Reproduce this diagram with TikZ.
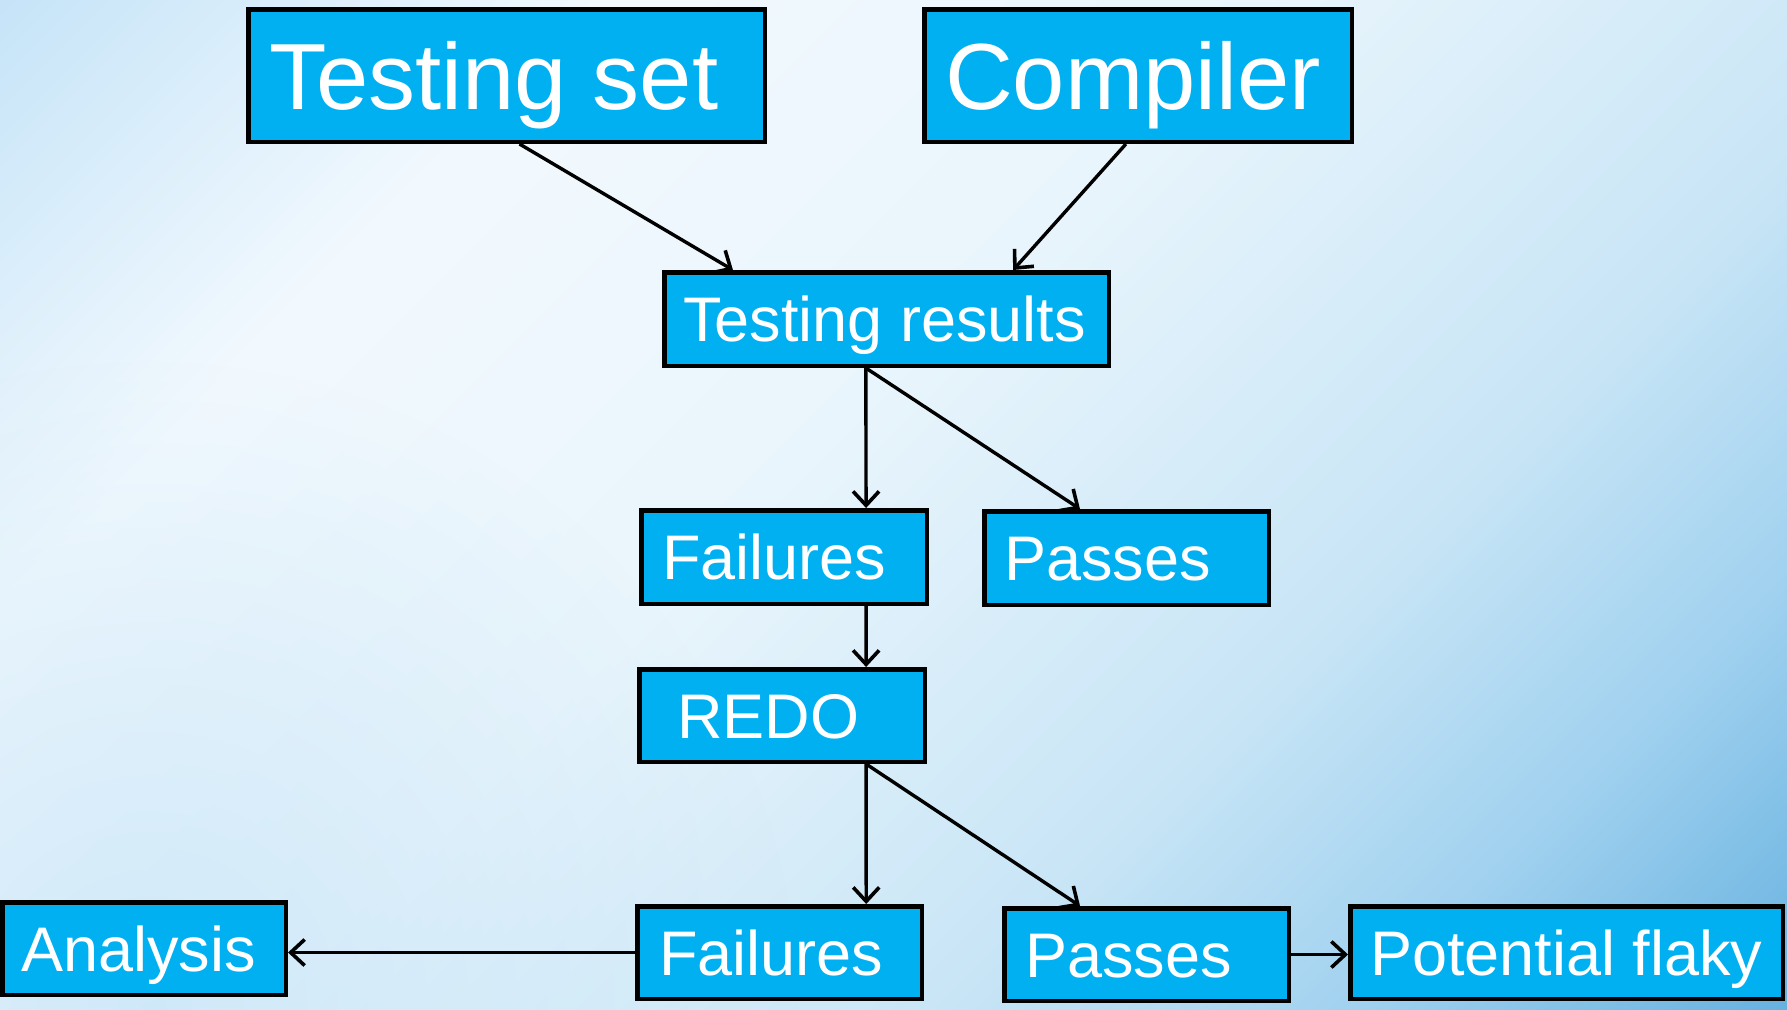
\documentclass[tikz,border=0pt]{standalone}
\usepackage{fontspec}
\setmainfont{Liberation Sans}
\usetikzlibrary{arrows.meta,calc,fadings}
\definecolor{boxblue}{HTML}{00B0F0}
\definecolor{bgA}{HTML}{C6E4F8}
\definecolor{bgB}{HTML}{F2F9FE}
\definecolor{bgC}{HTML}{E9F5FC}
\definecolor{bgD}{HTML}{C8E5F6}
\definecolor{bgE}{HTML}{A0D1EF}
\definecolor{bgF}{HTML}{68B2E0}
\definecolor{bgG}{HTML}{C4E3F7}
\pgfdeclarehorizontalshading{bgshade}{100bp}{color(0bp)=(bgA); color(14.64bp)=(bgA); color(30bp)=(bgB); color(46.5bp)=(bgC); color(64.1bp)=(bgD); color(74.7bp)=(bgE); color(85.36bp)=(bgF); color(100bp)=(bgF)}
\tikzfading[name=softglow, inner color=transparent!0, outer color=transparent!100]
\newcommand\lbox[2]{\makebox[#1][l]{#2}}
\tikzset{
  bx/.style n args={3}{draw=black, line width=4.5pt, fill=boxblue, text=white, rectangle,
    minimum width=#1, minimum height=#2, inner xsep=#3, inner ysep=0pt, anchor=center},
  big/.style={font=\fontsize{94}{100}\selectfont, text height=67pt, text depth=0pt},
  small/.style={font=\fontsize{63}{70}\selectfont, text height=45pt, text depth=0pt},
  arr/.style={draw=black, line width=3.4pt, -{Straight Barb[length=14pt,width=26pt,line width=3.6pt]}},
}
\begin{document}
\begin{tikzpicture}[x=1pt,y=-1pt]
\useasboundingbox (0,0) rectangle (1787,1009);
\begin{scope}
\clip (0,0) rectangle (1787,1009);
\shade[shading=bgshade, shading angle=-45] (0,0) rectangle (1787,1009);
\fill[bgG, opacity=0.7, path fading=softglow] (150,1009) circle (650);
\end{scope}

\node[bx={516.5pt}{132.5pt}{20.75pt}, big] (ts) at (506.5,75.5) {\lbox{475pt}{Testing set}};
\node[bx={427.5pt}{132.5pt}{20.75pt}, big] (cp) at (1138,75.5) {\lbox{386pt}{Compiler}};
\node[bx={444.5pt}{93.5pt}{18.75pt}, small] (tr) at (886.5,319) {\lbox{407pt}{Testing results}};
\node[bx={285.5pt}{93.5pt}{20.75pt}, small] (f1) at (784,557) {\lbox{244pt}{Failures}};
\node[bx={284.5pt}{93.5pt}{19.75pt}, small] (p1) at (1126.5,558) {\lbox{245pt}{Passes}};
\node[bx={285.5pt}{92.5pt}{37.75pt}, small] (redo) at (782,715.5) {\lbox{210pt}{REDO}};
\node[bx={284.5pt}{92.5pt}{21.75pt}, small] (f2) at (779.5,952.5) {\lbox{241pt}{Failures}};
\node[bx={284.5pt}{92.5pt}{20.75pt}, small] (p2) at (1146.5,954.5) {\lbox{243pt}{Passes}};
\node[bx={283.5pt}{92.5pt}{18.75pt}, small] (an) at (144,948.5) {\lbox{246pt}{Analysis}};
\node[bx={432.5pt}{92.5pt}{19.75pt}, small] (pf) at (1566.5,952.5) {\lbox{393pt}{Potential flaky}};

\draw[arr] ($(ts.south west)!0.525!(ts.south east)$) -- ($(tr.north west)!0.158!(tr.north east)$);
\draw[arr] ($(cp.south west)!0.472!(cp.south east)$) -- ($(tr.north west)!0.782!(tr.north east)$);
\coordinate (trout) at ($(tr.south west)!0.454!(tr.south east)$);
\draw[arr] (trout) -- ($(f1.north west)!0.783!(f1.north east)$);
\draw[arr] (trout) -- ($(p1.north west)!0.339!(p1.north east)$);
\draw[arr] ($(f1.south west)!0.783!(f1.south east)$) -- ($(redo.north west)!0.79!(redo.north east)$);
\coordinate (rdout) at ($(redo.south west)!0.79!(redo.south east)$);
\draw[arr] (rdout) -- ($(f2.north west)!0.8!(f2.north east)$);
\draw[arr] (rdout) -- ($(p2.north west)!0.27!(p2.north east)$);
\draw[arr] (f2.west) -- (f2.west -| an.east);
\draw[arr] (p2.east) -- (p2.east -| pf.west);
\end{tikzpicture}
\end{document}
